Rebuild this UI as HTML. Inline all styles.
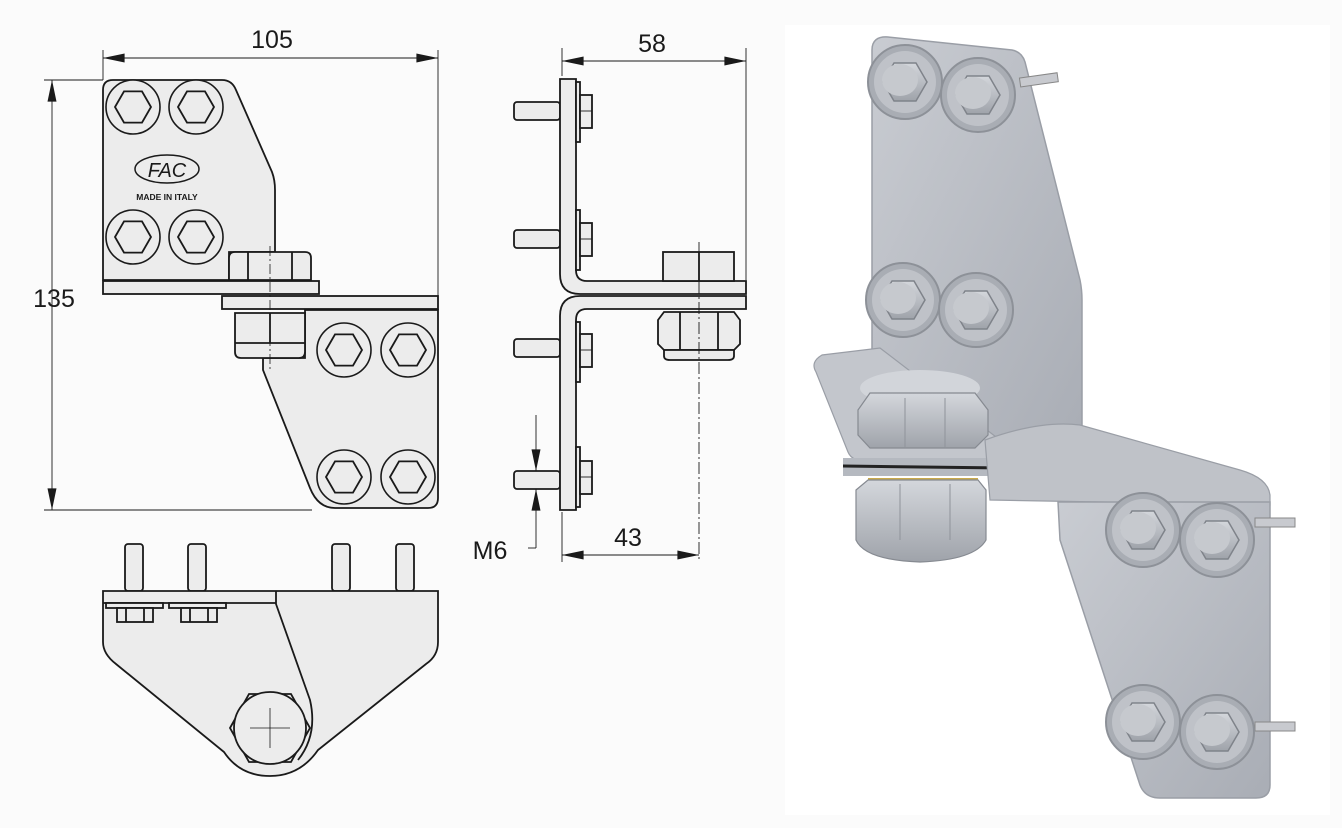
<!DOCTYPE html>
<html><head><meta charset="utf-8"><style>
html,body{margin:0;padding:0;background:#fff;}
svg{display:block;}
text{font-family:"Liberation Sans",sans-serif;fill:#1a1a1a;}
</style></head><body>
<svg width="1342" height="828" viewBox="0 0 1342 828" xmlns="http://www.w3.org/2000/svg">
<defs>
<g id="bolt"><circle r="27" fill="#ececec" stroke="#1a1a1a" stroke-width="1.6"/><polygon points="-18,0 -9,-15.6 9,-15.6 18,0 9,15.6 -9,15.6" fill="#ececec" stroke="#1a1a1a" stroke-width="1.8"/></g>
<marker id="ar" viewBox="0 0 24 10" refX="24" refY="5" markerWidth="24" markerHeight="9" orient="auto-start-reverse" markerUnits="userSpaceOnUse"><path d="M0,0 L24,5 L0,10 Z" fill="#1a1a1a"/></marker>
<linearGradient id="pl" x1="0" y1="0" x2="1" y2="1"><stop offset="0" stop-color="#c9ccd2"/><stop offset="1" stop-color="#a9adb5"/></linearGradient>
<linearGradient id="nt" x1="0" y1="0" x2="0" y2="1"><stop offset="0" stop-color="#d4d7dc"/><stop offset="1" stop-color="#9fa3aa"/></linearGradient>
<g id="pb"><circle r="37" fill="#a9adb4" stroke="#8d9198" stroke-width="2"/><circle r="31" fill="#bfc2c8"/><polygon points="-22,0 -11,-19 11,-19 22,0 11,19 -11,19" fill="url(#nt)" stroke="#7f838a" stroke-width="1.5"/><ellipse cx="-5" cy="-2" rx="18" ry="16" fill="#c6c9ce"/></g>
</defs>
<rect x="0" y="0" width="1342" height="828" fill="#fbfbfb"/>
<rect x="785" y="25" width="545" height="790" fill="#ffffff"/>

<!-- ===== FRONT VIEW ===== -->
<g stroke="#1a1a1a" stroke-width="1.8" fill="#ececec">
<path d="M103,280 L103,90 Q103,80 113,80 L222,80 Q232,80 236,90 L272,172 Q275,180 275,190 L275,252 L229,252 L229,280 Z"/>
<rect x="103" y="281" width="216" height="13"/>
<path d="M229,280 L229,258 Q229,252 235,252 L305,252 Q311,252 311,258 L311,280 Z"/>
<line x1="248" y1="252" x2="248" y2="280"/><line x1="292" y1="252" x2="292" y2="280"/>
<rect x="222" y="296" width="216" height="13"/>
<path d="M263,358 L263,370 L310,488 Q318,508 335,508 L428,508 Q438,508 438,498 L438,310 L305,310 L305,358 Z"/>
<path d="M235,313 L305,313 L305,352 Q305,358 299,358 L241,358 Q235,358 235,352 Z"/>
<line x1="235" y1="343" x2="305" y2="343"/><line x1="270" y1="313" x2="270" y2="343"/>
</g>
<line x1="270" y1="246" x2="270" y2="370" stroke="#1a1a1a" stroke-width="0.8" stroke-dasharray="10,3,2,3"/>
<use href="#bolt" x="133" y="107"/><use href="#bolt" x="196" y="107"/>
<use href="#bolt" x="133" y="237"/><use href="#bolt" x="196" y="237"/>
<use href="#bolt" x="344" y="350"/><use href="#bolt" x="408" y="350"/>
<use href="#bolt" x="344" y="477"/><use href="#bolt" x="408" y="477"/>
<ellipse cx="167" cy="169" rx="32" ry="14" fill="none" stroke="#1a1a1a" stroke-width="1.5"/>
<text x="167" y="177" font-size="20" text-anchor="middle" font-style="italic">FAC</text>
<text x="167" y="200" font-size="8.5" font-weight="bold" text-anchor="middle">MADE IN ITALY</text>

<!-- dims front -->
<g stroke="#1a1a1a" stroke-width="0.9" fill="none">
<line x1="103" y1="50" x2="103" y2="80"/><line x1="438" y1="50" x2="438" y2="296"/>
<line x1="103" y1="58" x2="438" y2="58" marker-start="url(#ar)" marker-end="url(#ar)"/>
<line x1="44" y1="80" x2="103" y2="80"/><line x1="44" y1="510" x2="312" y2="510"/>
<line x1="52" y1="80" x2="52" y2="510" marker-start="url(#ar)" marker-end="url(#ar)"/>
</g>
<text x="272" y="48" font-size="25" text-anchor="middle">105</text>
<text x="54" y="307" font-size="25" text-anchor="middle">135</text>

<!-- ===== SIDE VIEW ===== -->
<g stroke="#1a1a1a" stroke-width="1.8" fill="#ececec">
<rect x="514" y="102" width="46" height="18" rx="3"/>
<rect x="514" y="230" width="46" height="18" rx="3"/>
<rect x="514" y="339" width="46" height="18" rx="3"/>
<rect x="514" y="471" width="46" height="18" rx="3"/>
<path d="M560,79 L576,79 L576,270 Q576,281 587,281 L746,281 L746,294 L580,294 Q560,294 560,274 Z"/>
<path d="M560,510 L576,510 L576,320 Q576,309 587,309 L746,309 L746,296 L580,296 Q560,296 560,316 Z"/>
<rect x="576" y="82" width="4" height="60"/><rect x="576" y="210" width="4" height="60"/>
<rect x="576" y="322" width="4" height="60"/><rect x="576" y="447" width="4" height="60"/>
<rect x="580" y="95" width="12" height="33"/><rect x="580" y="223" width="12" height="33"/>
<rect x="580" y="334" width="12" height="33"/><rect x="580" y="461" width="12" height="33"/>
<rect x="663" y="252" width="71" height="29"/>
<line x1="699" y1="252" x2="699" y2="281"/>
<path d="M658,320 L664,312 L734,312 L740,320 L740,344 L734,350 L664,350 L658,344 Z"/>
<path d="M664,350 L734,350 L734,356 Q734,360 728,360 L670,360 Q664,360 664,356 Z"/>
<line x1="680" y1="312" x2="680" y2="350"/><line x1="718" y1="312" x2="718" y2="350"/>
</g>
<g stroke="#1a1a1a" stroke-width="0.9" fill="none">
<line x1="592" y1="111" x2="580" y2="111"/><line x1="592" y1="239" x2="580" y2="239"/>
<line x1="592" y1="350" x2="580" y2="350"/><line x1="592" y1="477" x2="580" y2="477"/>
<line x1="699" y1="242" x2="699" y2="560" stroke-dasharray="12,3,2,3"/>
<line x1="562" y1="48" x2="562" y2="76"/><line x1="746" y1="48" x2="746" y2="280"/>
<line x1="562" y1="61" x2="746" y2="61" marker-start="url(#ar)" marker-end="url(#ar)"/>
<line x1="562" y1="512" x2="562" y2="562"/>
<line x1="562" y1="555" x2="699" y2="555" marker-start="url(#ar)" marker-end="url(#ar)"/>
<line x1="536" y1="415" x2="536" y2="471" marker-end="url(#ar)"/>
<line x1="536" y1="548" x2="536" y2="489" marker-end="url(#ar)"/>
<line x1="528" y1="548" x2="536" y2="548"/>
</g>
<text x="652" y="52" font-size="25" text-anchor="middle">58</text>
<text x="628" y="546" font-size="25" text-anchor="middle">43</text>
<text x="490" y="559" font-size="25" text-anchor="middle">M6</text>

<!-- ===== BOTTOM VIEW ===== -->
<g stroke="#1a1a1a" stroke-width="1.8" fill="#ececec">
<rect x="125" y="544" width="18" height="47" rx="3"/><rect x="188" y="544" width="18" height="47" rx="3"/>
<rect x="332" y="544" width="18" height="47" rx="3"/><rect x="396" y="544" width="18" height="47" rx="3"/>
<path d="M103,591 L438,591 L438,642 Q438,656 426,664 L318,750 Q300,776 270,776 Q240,776 224,752 L116,664 Q103,654 103,642 Z"/>
<line x1="103" y1="603" x2="276" y2="603"/>
<path d="M276,591 L276,604 L310,700 Q318,735 298,760" fill="none"/>
<rect x="106" y="603" width="57" height="5"/><rect x="169" y="603" width="57" height="5"/>
<rect x="117" y="608" width="36" height="14"/><rect x="181" y="608" width="36" height="14"/>
<line x1="126" y1="608" x2="126" y2="622"/><line x1="144" y1="608" x2="144" y2="622"/>
<line x1="190" y1="608" x2="190" y2="622"/><line x1="208" y1="608" x2="208" y2="622"/>
<polygon points="230,728 249,694 291,694 310,728 291,762 249,762"/>
<circle cx="270" cy="728" r="36"/>
</g>
<g stroke="#1a1a1a" stroke-width="0.8"><line x1="250" y1="728" x2="290" y2="728"/><line x1="270" y1="708" x2="270" y2="748"/></g>

<!-- ===== 3D RENDER ===== -->
<g>
<path d="M872,50 Q872,36 888,37 L1012,50 Q1022,52 1025,62 L1080,280 Q1082,290 1082,300 L1082,430 Q1082,452 1060,452 L872,452 Z" fill="url(#pl)" stroke="#9a9ea6" stroke-width="1.5"/>
<rect x="1020" y="78" width="38" height="9" fill="#c8cacf" stroke="#888" transform="rotate(-8 1020 82)"/>
<path d="M822,355 Q810,362 816,372 L848,452 Q852,462 870,462 L990,464 Q1040,460 1080,440 L1075,432 Q1040,445 1000,440 L880,348 Z" fill="#c3c6cc" stroke="#9a9ea6" stroke-width="1.2"/>
<ellipse cx="920" cy="388" rx="60" ry="18" fill="#d2d5da"/>
<path d="M858,410 L870,393 L975,393 L988,410 L988,435 L975,448 L870,448 L858,435 Z" fill="url(#nt)" stroke="#868a91" stroke-width="1.2"/>
<line x1="905" y1="398" x2="905" y2="448" stroke="#8f939a"/><line x1="945" y1="398" x2="945" y2="448" stroke="#8f939a"/>
<path d="M843,458 L1000,458 L1000,476 L843,476 Z" fill="#b5b9c0"/>
<line x1="843" y1="466" x2="1005" y2="468" stroke="#222" stroke-width="3"/>
<path d="M985,440 Q1040,420 1080,425 L1240,470 Q1268,478 1270,495 L1270,505 L990,500 Z" fill="#bfc2c8" stroke="#9a9ea6" stroke-width="1.2"/>
<rect x="868" y="478" width="110" height="10" fill="#c9a94a"/>
<path d="M856,490 L868,480 L978,480 L986,490 L986,540 Q975,560 920,562 Q865,560 856,540 Z" fill="url(#nt)" stroke="#868a91" stroke-width="1.2"/>
<line x1="900" y1="484" x2="900" y2="540" stroke="#8f939a"/><line x1="950" y1="484" x2="950" y2="540" stroke="#8f939a"/>
<path d="M1058,502 L1270,502 L1270,785 Q1270,798 1256,798 L1160,798 Q1145,798 1140,785 L1060,540 Z" fill="url(#pl)" stroke="#9a9ea6" stroke-width="1.5"/>
<rect x="1255" y="518" width="40" height="9" fill="#c8cacf" stroke="#888"/>
<rect x="1255" y="722" width="40" height="9" fill="#c8cacf" stroke="#888"/>
<use href="#pb" x="905" y="82"/><use href="#pb" x="978" y="95"/>
<use href="#pb" x="903" y="300"/><use href="#pb" x="976" y="310"/>
<use href="#pb" x="1143" y="530"/><use href="#pb" x="1217" y="540"/>
<use href="#pb" x="1143" y="722"/><use href="#pb" x="1217" y="732"/>
</g>
</svg>
</body></html>
